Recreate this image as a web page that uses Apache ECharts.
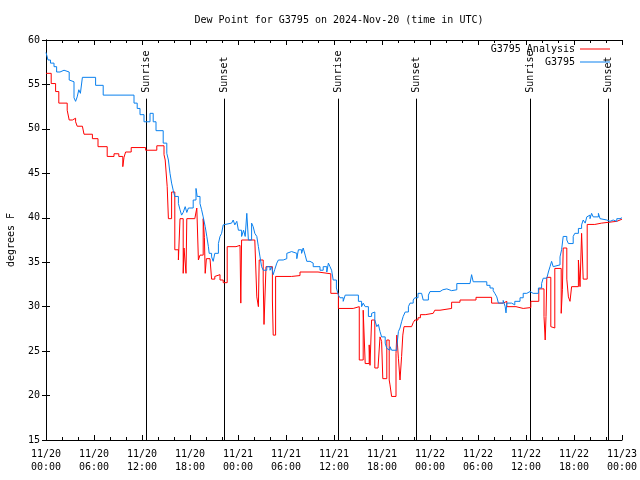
<!DOCTYPE html>
<html>
<head>
<meta charset="utf-8">
<script src="https://cdn.jsdelivr.net/npm/echarts@6/dist/echarts.min.js"></script>
<style>html,body{margin:0;padding:0;background:#fff;}#c{width:640px;height:480px;}</style>
</head>
<body>
<div id="c"></div>
<script>
// ---- data (x = hours since 2024-11-20 00:00 UTC) ----
var titleText = 'Dew Point for G3795 on 2024-Nov-20 (time in UTC)';
var tickDates = ['11/20','11/20','11/20','11/20','11/21','11/21','11/21','11/21','11/22','11/22','11/22','11/22','11/23'];
var tickTimes = ['00:00','06:00','12:00','18:00','00:00','06:00','12:00','18:00','00:00','06:00','12:00','18:00','00:00'];
var sunHours = [12.5, 22.3, 36.55, 46.2, 60.55, 70.2];
var sunLabels = ['Sunrise','Sunset','Sunrise','Sunset','Sunrise','Sunset'];

var analysisData = [[0,56.25],[0.65,55.1],[1.2,54.2],[1.6,52.9],[2.65,52.1],[2.9,51.0],[3.3,51.2],[3.7,50.8],[3.9,50.3],[4.55,50.4],[4.75,49.4],[5.8,48.9],[6.5,48.0],[7.65,46.9],[8.5,47.2],[9.1,46.9],[9.6,45.75],[9.75,46.8],[9.95,47.4],[10.65,47.9],[12.45,47.6],[13.85,48.1],[14.75,47.1],[14.9,46.5],[15.15,43.5],[15.3,39.9],[15.7,42.9],[16.1,36.4],[16.55,35.25],[16.75,39.9],[17.15,33.75],[17.25,36.6],[17.5,33.75],[17.6,39.9],[18.6,39.75],[18.85,41.1],[19.05,35.25],[19.25,35.8],[19.65,39.9],[19.8,37.8],[19.9,33.75],[20.05,35.4],[20.5,35.4],[20.7,33.1],[21.1,33.4],[21.35,33.6],[21.75,33.0],[22.15,32.7],[22.65,36.75],[23.75,36.9],[24.25,37.1],[24.35,30.4],[24.45,37.5],[26.1,37.7],[26.35,31.1],[26.55,30.0],[26.65,35.25],[27.15,33.0],[27.25,28.0],[27.5,34.5],[28.3,30.75],[28.4,26.8],[28.7,33.4],[30.7,33.5],[31.75,33.9],[34.0,33.7],[35.6,31.5],[36.55,29.8],[38.4,29.7],[38.5,30.0],[39.16,24.0],[39.65,29.6],[39.9,23.6],[40.4,25.7],[40.5,23.4],[40.7,28.5],[41.1,23.1],[41.5,22.9],[41.75,26.6],[41.95,26.1],[42.1,21.9],[42.6,26.25],[42.9,21.75],[43.0,21.2],[43.2,19.9],[43.75,24.75],[43.85,26.8],[44.05,24.2],[44.25,21.75],[44.45,24.4],[44.6,26.8],[44.75,27.75],[45.7,27.9],[45.9,28.2],[46.1,28.5],[46.5,28.75],[46.8,29.1],[47.4,29.25],[48.4,29.4],[48.6,29.6],[49.25,29.8],[50.7,30.5],[51.75,30.75],[53.75,31.05],[55.7,30.4],[57.15,30.6],[57.6,30.0],[58.75,29.8],[59.65,29.9],[60.6,30.6],[61.6,32.0],[62.25,28.9],[62.4,26.25],[62.5,28.9],[62.6,33.3],[63.1,27.75],[63.3,27.6],[63.6,34.3],[64.4,29.25],[64.55,31.9],[64.65,36.6],[65.1,33.1],[65.3,31.1],[65.5,30.6],[65.7,32.25],[66.55,35.25],[66.75,32.25],[66.95,38.25],[67.15,33.1],[67.65,39.25],[68.6,39.4],[69.45,39.6],[71.35,39.6],[71.5,39.75],[71.75,39.85],[72,39.9]];

var observedData = [[0,58.6],[0.25,57.75],[0.56,57.4],[1.0,57.0],[1.33,56.4],[1.75,56.6],[2.25,56.4],[2.9,55.5],[3.1,55.3],[3.5,53.5],[3.7,53.1],[3.9,53.6],[4.1,54.4],[4.3,54.0],[4.55,55.8],[6.2,54.9],[7.15,53.8],[11.0,52.9],[11.4,52.3],[11.75,51.6],[12.25,50.8],[13.0,51.75],[13.4,50.8],[13.75,49.8],[14.65,48.4],[15.1,47.25],[15.3,46.5],[15.5,45.0],[15.7,43.9],[15.9,43.1],[16.1,42.4],[16.55,41.6],[16.75,40.9],[16.95,40.3],[17.15,40.6],[17.4,41.25],[17.6,40.6],[17.8,41.1],[18.4,42.0],[18.75,43.3],[18.9,42.4],[19.25,41.6],[19.45,40.9],[19.65,40.1],[19.9,39.0],[20.1,37.9],[20.3,36.75],[20.4,36.0],[20.7,35.6],[20.9,35.1],[21.1,36.0],[21.55,37.1],[21.75,37.9],[21.95,38.25],[22.15,39.2],[22.4,39.4],[23.2,39.6],[23.4,39.75],[23.6,39.2],[23.85,39.6],[24.05,38.6],[24.45,37.9],[24.7,38.6],[24.9,37.9],[25.1,40.5],[25.3,37.5],[25.7,39.4],[25.9,39.0],[26.1,38.25],[26.35,37.9],[26.55,36.75],[26.75,35.6],[26.95,34.5],[27.15,34.1],[27.6,34.5],[28.0,34.1],[28.2,34.5],[28.4,33.6],[28.6,34.2],[28.85,34.9],[29.05,35.25],[29.65,35.4],[30.1,36.0],[30.3,36.2],[30.7,36.0],[31.35,35.4],[31.55,36.4],[31.95,36.0],[32.15,36.6],[32.4,35.8],[32.6,35.1],[33.0,34.9],[33.4,34.5],[34.25,34.1],[34.65,34.5],[35.1,33.9],[35.3,34.9],[35.5,34.5],[35.7,34.1],[35.9,33.0],[36.3,32.1],[36.55,31.3],[36.75,31.0],[37.15,30.6],[37.4,31.3],[39.05,30.6],[39.45,30.0],[39.65,30.4],[39.9,30.0],[40.3,28.9],[40.7,29.25],[40.9,29.4],[41.1,28.5],[41.35,27.75],[41.55,28.0],[41.75,27.2],[41.95,26.6],[42.4,25.9],[42.6,25.3],[42.8,25.1],[43.0,25.5],[43.2,25.1],[43.85,25.5],[44.05,27.2],[44.25,27.6],[44.45,28.3],[44.65,28.9],[44.9,29.4],[45.3,30.0],[45.5,30.4],[45.9,30.75],[46.1,31.0],[46.5,31.5],[46.95,31.7],[47.15,30.75],[47.8,31.3],[48.0,31.7],[49.25,31.9],[49.6,32.0],[50.1,31.8],[50.7,31.9],[51.35,32.6],[53.0,32.8],[53.2,33.6],[53.4,32.8],[55.1,32.4],[55.5,32.1],[55.9,31.8],[56.1,31.5],[56.35,31.1],[56.55,30.4],[57.15,30.7],[57.4,30.0],[57.5,29.3],[57.6,30.4],[58.2,30.2],[58.6,30.6],[59.25,31.0],[59.65,31.5],[60.1,31.7],[60.5,31.5],[60.9,31.3],[61.1,31.5],[61.55,32.1],[61.95,32.6],[62.15,33.2],[62.6,33.4],[62.8,33.9],[63.0,34.5],[63.2,35.1],[63.4,34.5],[63.6,34.7],[64.25,35.6],[64.45,36.4],[64.65,37.9],[65.1,37.5],[65.3,37.1],[65.9,37.9],[66.1,38.25],[66.55,38.8],[66.95,39.2],[67.15,39.75],[67.4,39.4],[67.6,40.1],[67.8,40.3],[68.0,39.9],[68.2,40.5],[68.4,40.1],[69.05,40.5],[69.25,39.9],[69.45,39.75],[70.1,39.6],[70.5,39.75],[70.9,39.6],[71.35,39.9],[71.75,40.0],[72,40.0]];

// ---- chart ----
var FONT = 'DejaVu Sans Mono';
var sunLineTop = 53.4;
var chart = echarts.init(document.getElementById('c'), null, {renderer: 'canvas'});
var xBase = {
  type: 'value', min: 0, max: 72, interval: 6,
  axisLine: {show: true, lineStyle: {color: '#000', width: 1}},
  axisTick: {show: true, inside: true, length: 5, lineStyle: {color: '#000'}},
  minorTick: {show: true, splitNumber: 3, length: 3, lineStyle: {color: '#000'}},
  splitLine: {show: false}
};
var yBase = {
  type: 'value', min: 15, max: 60, interval: 5,
  axisLine: {show: true, lineStyle: {color: '#000', width: 1}},
  axisTick: {show: true, inside: true, length: 4, lineStyle: {color: '#000'}},
  splitLine: {show: false}
};
var option = {
  backgroundColor: '#fff',
  animation: false,
  title: {
    text: titleText, left: 334, textAlign: 'center', top: 10,
    textStyle: {fontFamily: FONT, fontSize: 10, fontWeight: 'normal', color: '#000'}
  },
  legend: [
    {data: ['G3795 Analysis'], right: 25, top: 39, orient: 'vertical', align: 'right',
     itemWidth: 30, itemHeight: 1, icon: 'rect', itemGap: 3,
     textStyle: {fontFamily: FONT, fontSize: 10, color: '#000'}},
    {data: ['G3795'], right: 25, top: 52, orient: 'vertical', align: 'right',
     itemWidth: 30, itemHeight: 1, icon: 'rect', itemGap: 3,
     textStyle: {fontFamily: FONT, fontSize: 10, color: '#000'}}
  ],
  grid: {left: 46, right: 18, top: 40, bottom: 40, containLabel: false, outerBoundsMode: 'none'},
  xAxis: [
    Object.assign({}, xBase, {
      position: 'bottom',
      axisLabel: {
        show: true, margin: 8, fontFamily: FONT, fontSize: 10, color: '#000', lineHeight: 13,
        formatter: function (v) { var i = Math.round(v / 6); return tickDates[i] + '\n' + tickTimes[i]; }
      }
    }),
    Object.assign({}, xBase, {position: 'top', axisLabel: {show: false}})
  ],
  yAxis: [
    Object.assign({}, yBase, {
      position: 'left',
      name: 'degrees F', nameLocation: 'middle', nameGap: 30, nameRotate: 90,
      nameTextStyle: {fontFamily: FONT, fontSize: 10, color: '#000'},
      axisLabel: {show: true, margin: 6, fontFamily: FONT, fontSize: 10, color: '#000'}
    }),
    Object.assign({}, yBase, {position: 'right', axisLabel: {show: false}})
  ],
  series: [
    {
      type: 'custom', name: 'sun', silent: true, clip: false, z: 1,
      data: sunHours.map(function (h) { return [h]; }),
      renderItem: function (params, api) {
        var h = api.value(0);
        var b = api.coord([h, 15]);
        var t = api.coord([h, sunLineTop]);
        var x = Math.round(b[0]) + 0.5;
        return {
          type: 'group',
          children: [
            {type: 'line', shape: {x1: x, y1: b[1], x2: x, y2: t[1]}, style: {stroke: '#000', lineWidth: 1}},
            {type: 'text', x: x, y: t[1] - 6, rotation: Math.PI / 2,
             style: {text: sunLabels[params.dataIndex], font: '10px "' + FONT + '"', fill: '#000', align: 'left', verticalAlign: 'middle'}}
          ]
        };
      }
    },
    {
      type: 'line', name: 'G3795 Analysis', data: analysisData, step: 'end',
      showSymbol: false, symbol: 'none', z: 2,
      lineStyle: {color: '#ff0000', width: 1}, itemStyle: {color: '#ff0000'}
    },
    {
      type: 'line', name: 'G3795', data: observedData, step: 'end',
      showSymbol: false, symbol: 'none', z: 3,
      lineStyle: {color: '#0a80ee', width: 1}, itemStyle: {color: '#0a80ee'}
    }
  ]
};
chart.setOption(option);
</script>
</body>
</html>
